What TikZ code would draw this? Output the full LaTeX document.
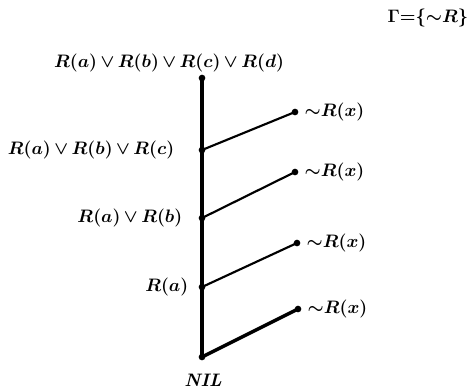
\documentclass[tikz,border=0pt]{standalone}
\usepackage{graphicx}
\usepackage{tikz}
\newcommand{\orr}{\mskip3mu{\vee}\mskip3mu}
\newcommand{\lbl}[1]{\scalebox{0.94}{#1}}

\begin{document}
\begin{tikzpicture}[x=0.75pt,y=-0.75pt,font=\fontsize{14.4}{17}\selectfont\boldmath,
  dot/.style={circle,fill=black,inner sep=0pt,minimum size=5pt},
  spine/.style={line width=2.6pt},
  branch/.style={line width=1.6pt}]
\useasboundingbox (0,0) rectangle (473,390);
\node[dot] (top) at (202,78) {};
\node[dot] (abc) at (202,150) {};
\node[dot] (ab) at (202,218) {};
\node[dot] (a) at (202,287) {};
\node[dot] (nil) at (202,357) {};
\node[dot] (x1) at (295,112) {};
\node[dot] (x2) at (295,172) {};
\node[dot] (x3) at (297,243) {};
\node[dot] (x4) at (298,309) {};
\draw[spine] (top.center) -- (nil.center);
\draw[branch] (abc.center) -- (x1.center);
\draw[branch] (ab.center) -- (x2.center);
\draw[branch] (a.center) -- (x3.center);
\draw[spine] (nil.center) -- (x4.center);
% clause labels
\node (ltop) at (169,63) {\lbl{$R(a)\orr R(b)\orr R(c)\orr R(d)$}};
\node[anchor=east] (labc) at (179,150) {\lbl{$R(a)\orr R(b)\orr R(c)$}};
\node[anchor=east] (lab) at (187,218) {\lbl{$R(a)\orr R(b)$}};
\node[anchor=east] (la) at (193,287) {\lbl{$R(a)$}};
\node (lnil) at (203,380) {\lbl{\textbf{\textit{NIL}}}};
\node[anchor=west] (lx1) at (300,112) {\lbl{${\sim}R(x)$}};
\node[anchor=west] (lx2) at (300,172) {\lbl{${\sim}R(x)$}};
\node[anchor=west] (lx3) at (302,243) {\lbl{${\sim}R(x)$}};
\node[anchor=west] (lx4) at (303,309) {\lbl{${\sim}R(x)$}};
\node[anchor=east] (gamma) at (473,18) {\lbl{$\Gamma{=}\{{\sim}R\}$}};
\end{tikzpicture}
\end{document}
